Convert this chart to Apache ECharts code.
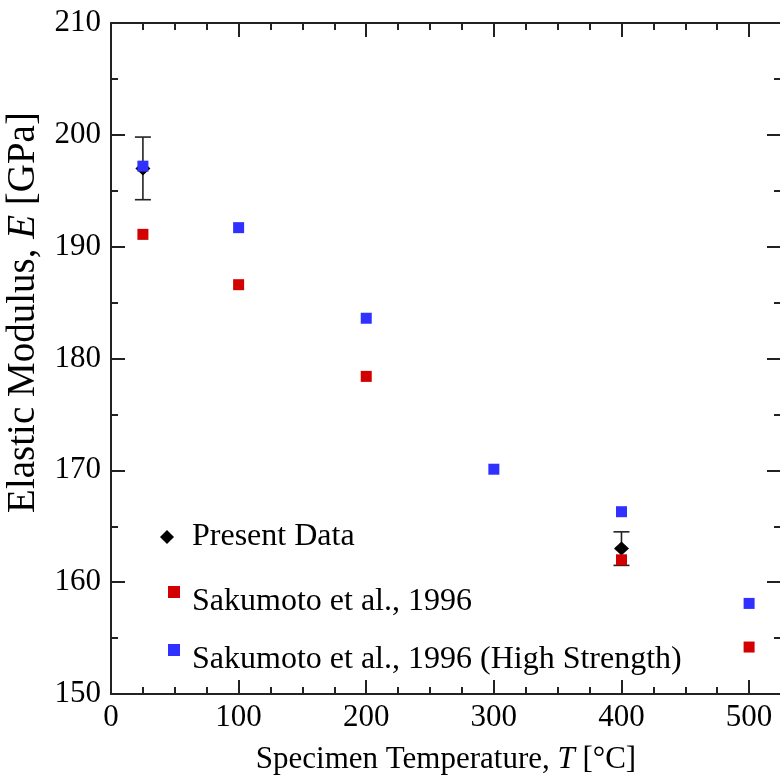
<!DOCTYPE html>
<html>
<head>
<meta charset="utf-8">
<script src="https://cdn.jsdelivr.net/npm/echarts@6/dist/echarts.min.js"></script>
<style>html,body{margin:0;padding:0;background:#fff}#c{width:780px;height:782px}</style>
</head>
<body>
<div id="c"></div>
<script>
// ---- data ----
const presentTemp = [25, 400];
const presentModulus = [197.0, 163.0];
const presentErrLow = [194.2, 161.5];
const presentErrHigh = [199.8, 164.5];

const sakTemp = [25, 100, 200, 400, 500];
const sakModulus = [191.1, 186.6, 178.4, 162.0, 154.2];

const hsTemp = [25, 100, 200, 300, 400, 500];
const hsModulus = [197.2, 191.7, 183.6, 170.1, 166.3, 158.1];

const seriesNames = ['Present Data', 'Sakumoto et al., 1996', 'Sakumoto et al., 1996 (High Strength)'];

const xMin = 0, xMax = 525, xStep = 100;
const yMin = 150, yMax = 210, yStep = 10;

// ---- chart ----
const FONT = '"Liberation Serif", "Times New Roman", serif';
const FS = 31;
const LFS = 32;
const AX = '#222';

const chart = echarts.init(document.getElementById('c'), null, {renderer: 'canvas'});

function baseAxis(extra) {
  return Object.assign({
    type: 'value',
    gridIndex: 0,
    splitLine: {show: false},
    axisLine: {show: true, onZero: false, lineStyle: {color: AX, width: 2}},
    axisTick: {show: true, inside: true, length: 14, lineStyle: {color: AX, width: 2}},
    minorTick: {show: true, length: 7, lineStyle: {color: AX, width: 2}},
    axisLabel: {show: false}
  }, extra);
}

const legendFont = {fontFamily: FONT, fontSize: LFS, color: '#000'};

function makeLegend(name, icon, left, top, size, shift) {
  return {
    show: true,
    orient: 'vertical',
    left: left, top: top,
    padding: 0,
    itemWidth: size, itemHeight: size,
    selectedMode: false,
    formatter: n => '{t|' + n + '}',
    textStyle: Object.assign({}, legendFont, {
      rich: {t: Object.assign({}, legendFont, {padding: [shift, 0, 0, 176 + 16 - left - size - 5]})}
    }),
    data: [{name: name, icon: icon}]
  };
}

const option = {
  backgroundColor: '#fff',
  animation: false,
  grid: {left: 111, top: 23, width: 670, height: 671, containLabel: false, outerBoundsMode: 'none'},
  xAxis: [
    baseAxis({
      position: 'bottom', min: xMin, max: xMax, interval: xStep,
      minorTick: {show: true, splitNumber: 4, length: 7, lineStyle: {color: AX, width: 2}},
      axisLabel: {show: true, margin: 8, fontFamily: FONT, fontSize: FS, color: '#000',
        formatter: v => (v % xStep === 0 ? String(v) : '')},
      name: '{n|Specimen Temperature, }{i|T}{n| [°C]}',
      nameLocation: 'middle', nameGap: 50,
      nameTextStyle: {fontFamily: FONT, fontSize: FS, color: '#000',
        rich: {n: {fontFamily: FONT, fontSize: FS, color: '#000'},
               i: {fontFamily: FONT, fontSize: FS, color: '#000', fontStyle: 'italic'}}}
    }),
    baseAxis({
      position: 'top', min: xMin, max: xMax, interval: xStep,
      minorTick: {show: true, splitNumber: 4, length: 7, lineStyle: {color: AX, width: 2}}
    })
  ],
  yAxis: [
    baseAxis({
      position: 'left', min: yMin, max: yMax, interval: yStep,
      minorTick: {show: true, splitNumber: 2, length: 7, lineStyle: {color: AX, width: 2}},
      axisLabel: {show: true, margin: 10, fontFamily: FONT, fontSize: FS, color: '#000'},
      name: '{n|Elastic Modulus, }{i|E}{n| [GPa]}',
      nameLocation: 'middle', nameGap: 62, nameRotate: 90,
      nameTextStyle: {fontFamily: FONT, fontSize: 39, color: '#000', padding: [0, 0, 0, 92],
        rich: {n: {fontFamily: FONT, fontSize: 39, color: '#000'},
               i: {fontFamily: FONT, fontSize: 39, color: '#000', fontStyle: 'italic'}}}
    }),
    baseAxis({
      position: 'right', min: yMin, max: yMax, interval: yStep,
      axisLine: {show: true, onZero: false, lineStyle: {color: 'rgba(0,0,0,0)', width: 2}},
      minorTick: {show: true, splitNumber: 2, length: 7, lineStyle: {color: AX, width: 2}}
    })
  ],
  legend: [
    makeLegend(seriesNames[0], 'diamond', 160, 521, 14, 0),
    makeLegend(seriesNames[1], 'rect', 168, 586, 12, 20),
    makeLegend(seriesNames[2], 'rect', 168, 644, 12, 20)
  ],
  series: [
    {
      type: 'custom',
      name: 'err',
      xAxisIndex: 0, yAxisIndex: 0,
      z: 1,
      silent: true,
      data: presentTemp.map((t, i) => [t, presentErrLow[i], presentErrHigh[i]]),
      renderItem: function (params, api) {
        const x = api.value(0);
        const lo = api.coord([x, api.value(1)]);
        const hi = api.coord([x, api.value(2)]);
        const hw = 8;
        const st = {stroke: '#222', lineWidth: 1.6};
        return {
          type: 'group',
          children: [
            {type: 'line', shape: {x1: lo[0], y1: lo[1], x2: hi[0], y2: hi[1]}, style: st},
            {type: 'line', shape: {x1: lo[0] - hw, y1: lo[1], x2: lo[0] + hw, y2: lo[1]}, style: st},
            {type: 'line', shape: {x1: hi[0] - hw, y1: hi[1], x2: hi[0] + hw, y2: hi[1]}, style: st}
          ]
        };
      }
    },
    {
      type: 'scatter',
      name: seriesNames[0],
      z: 2,
      symbol: 'diamond',
      symbolSize: [15, 14],
      itemStyle: {color: '#000', opacity: 1},
      data: presentTemp.map((t, i) => [t, presentModulus[i]])
    },
    {
      type: 'scatter',
      name: seriesNames[1],
      z: 3,
      symbol: 'rect',
      symbolSize: 11,
      itemStyle: {color: '#D20000', opacity: 1},
      data: sakTemp.map((t, i) => [t, sakModulus[i]])
    },
    {
      type: 'scatter',
      name: seriesNames[2],
      z: 4,
      symbol: 'rect',
      symbolSize: 11,
      itemStyle: {color: '#3030FF', opacity: 1},
      data: hsTemp.map((t, i) => [t, hsModulus[i]])
    }
  ]
};
chart.setOption(option);
</script>
</body>
</html>
